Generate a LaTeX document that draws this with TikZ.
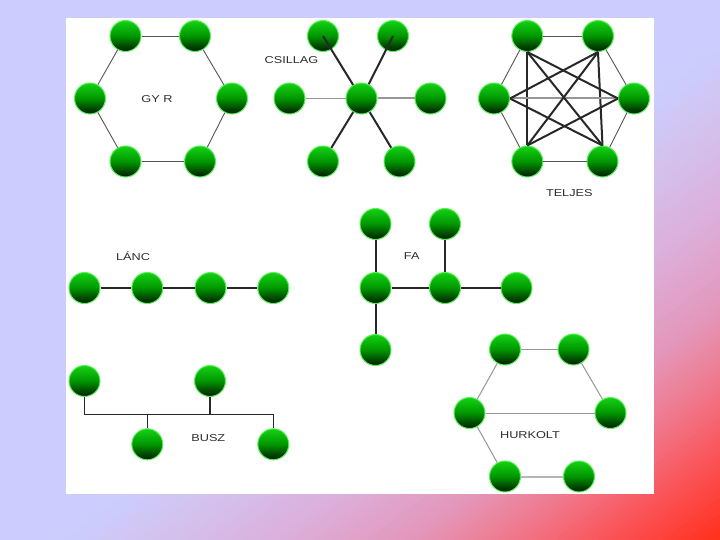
\documentclass[tikz,border=0pt]{standalone}
\usepackage{fontspec}
\newfontfamily\lblfont[FakeStretch=1.27]{Liberation Sans}
\definecolor{g0}{RGB}{204,204,255}
\definecolor{g1}{RGB}{204,204,252}
\definecolor{g2}{RGB}{210,196,240}
\definecolor{g3}{RGB}{220,176,220}
\definecolor{g4}{RGB}{228,150,185}
\definecolor{g5}{RGB}{240,120,140}
\definecolor{g6}{RGB}{250,85,90}
\definecolor{g7}{RGB}{255,55,40}
\definecolor{g8}{RGB}{255,48,22}
\definecolor{ballT}{RGB}{20,210,20}
\definecolor{ballM}{RGB}{0,150,0}
\definecolor{ballB}{RGB}{0,25,0}
\definecolor{ballR}{RGB}{90,240,90}
\definecolor{lineD}{RGB}{40,40,40}
\definecolor{lineM}{RGB}{85,85,85}
\definecolor{lineL}{RGB}{150,150,150}
\definecolor{txt}{RGB}{45,45,45}
\tikzset{
  ball/.style={circle, minimum size=31pt, inner sep=0pt, top color=ballT, bottom color=ballB, middle color=ballM, draw=ballR, line width=1pt},
  lbl/.style={font=\lblfont\fontsize{10}{12}\selectfont, text=txt, inner sep=0pt},
  ringln/.style={draw=lineM, line width=0.9pt},
  heavyln/.style={draw=lineD, line width=2pt},
  greyln/.style={draw=lineL, line width=1pt},
  greyheavy/.style={draw=lineL, line width=2pt}
}
\begin{document}
\begin{tikzpicture}[x=1pt,y=-1pt]
\useasboundingbox (0,0) rectangle (720,540);
% background gradient (diagonal, lavender to red)
\fill[g0] (0,0) rectangle (720,540);
\begin{scope}
\clip (0,0) rectangle (720,540);
\foreach \sa/\sb/\colA/\colB in {0/10/g0/g1, 10/19/g1/g2, 19/38/g2/g3, 38/57/g3/g4, 57/70/g4/g5, 70/83/g5/g6, 83/96/g6/g7, 96/100/g7/g8} {
  \pgfmathtruncatemacro\e{\sb-1}
  \foreach \i in {\sa,...,\e} {
    \pgfmathsetmacro\p{100*(\i-\sa)/(\sb-\sa)}
    \pgfmathsetmacro\lo{1+\i/100}
    \pgfmathsetmacro\hi{1+(\i+1)/100+0.006}
    \colorlet{bandc}{\colB!\p!\colA}
    \fill[bandc] ({720*(\lo+1)},-540) -- ({720*(\lo-2)},1080) -- ({720*(\hi-2)},1080) -- ({720*(\hi+1)},-540) -- cycle;
  }
}
\end{scope}
% white panel
\fill[white] (66,18) rectangle (654,494);

% ---------- ring ----------
\node[ball] (r1) at (125.5,36) {};
\node[ball] (r2) at (195,36) {};
\node[ball] (r3) at (232,98.5) {};
\node[ball] (r4) at (200,161.5) {};
\node[ball] (r5) at (125.5,161.5) {};
\node[ball] (r6) at (90,98.5) {};
\draw[ringln] (r1) -- (r2); \draw[ringln] (r2) -- (r3); \draw[ringln] (r3) -- (r4);
\draw[ringln] (r4) -- (r5); \draw[ringln] (r5) -- (r6); \draw[ringln] (r6) -- (r1);
\node[lbl] (lring) at (157,99.3) {GY R};

% ---------- star ----------
\node[ball] (s0) at (361.5,98.5) {};
\node[ball] (s1) at (323,36) {};
\node[ball] (s2) at (393,36) {};
\node[ball] (s3) at (430.5,98.5) {};
\node[ball] (s4) at (399.5,161.5) {};
\node[ball] (s5) at (323,161.5) {};
\node[ball] (s6) at (289.5,98.5) {};
\draw[heavyln] (s0) -- (s1.center);
\draw[heavyln] (s0) -- (s2.center);
\draw[greyheavy] (s0) -- (s3);
\draw[heavyln] (s0) -- (s4);
\draw[heavyln] (s0) -- (s5);
\draw[greyln] (s0) -- (s6);
\node[lbl] (lstar) at (291.5,60) {CSILLAG};

% ---------- complete ----------
\node[ball] (t1) at (527.3,36) {};
\node[ball] (t2) at (598,36) {};
\node[ball] (t3) at (634,98.5) {};
\node[ball] (t4) at (602.5,161.5) {};
\node[ball] (t5) at (527.3,161.5) {};
\node[ball] (t6) at (494,98.5) {};
\draw[ringln] (t1) -- (t2); \draw[ringln] (t2) -- (t3); \draw[ringln] (t3) -- (t4);
\draw[ringln] (t4) -- (t5); \draw[ringln] (t5) -- (t6); \draw[ringln] (t6) -- (t1);
\draw[heavyln] (t1.south) -- (t5.north);
\draw[heavyln] (t2.south) -- (t4.north);
\draw[greyheavy] (t6.east) -- (t3.west);
\draw[heavyln] (t1.south) -- (t4.north);
\draw[heavyln] (t1.south) -- (t3.west);
\draw[heavyln] (t2.south) -- (t5.north);
\draw[heavyln] (t2.south) -- (t6.east);
\draw[heavyln] (t3.west) -- (t5.north);
\draw[heavyln] (t6.east) -- (t4.north);
\node[lbl] (lcomp) at (569.3,192.7) {TELJES};

% ---------- chain ----------
\node[ball] (c1) at (84.5,288) {};
\node[ball] (c2) at (147.3,288) {};
\node[ball] (c3) at (210.5,288) {};
\node[ball] (c4) at (273.3,288) {};
\draw[heavyln] (c1) -- (c2); \draw[heavyln] (c2) -- (c3); \draw[heavyln] (c3) -- (c4);
\node[lbl] (lchain) at (133,256.7) {LÁNC};

% ---------- tree ----------
\node[ball] (f1) at (375.5,224) {};
\node[ball] (f2) at (445,224) {};
\node[ball] (f3) at (375.5,288) {};
\node[ball] (f4) at (445,288) {};
\node[ball] (f5) at (516.5,288) {};
\node[ball] (f6) at (375.5,350) {};
\draw[heavyln] (f1) -- (f3); \draw[heavyln] (f3) -- (f4); \draw[heavyln] (f2) -- (f4);
\draw[heavyln] (f4) -- (f5); \draw[heavyln] (f3) -- (f6);
\node[lbl] (ltree) at (411.7,256) {FA};

% ---------- bus ----------
\node[ball] (b1) at (84.5,381) {};
\node[ball] (b2) at (210,381) {};
\node[ball] (b3) at (147.3,444.3) {};
\node[ball] (b4) at (273.3,444.3) {};
\coordinate (busL) at (84.5,414.3);
\coordinate (busR) at (273.3,414.3);
\draw[draw=lineD, line width=1.6pt] (b1) -- (busL) -- (busR) -- (b4);
\draw[draw=lineD, line width=2.2pt] (b2) -- (b2 |- busL);
\draw[draw=lineD, line width=1.6pt] (b3) -- (b3 |- busL);
\node[lbl] (lbus) at (208.3,438.3) {BUSZ};

% ---------- mesh ----------
\node[ball] (h1) at (505,349.5) {};
\node[ball] (h2) at (573.5,349.5) {};
\node[ball] (h3) at (610.5,413) {};
\node[ball] (h4) at (579,476.5) {};
\node[ball] (h5) at (505,476.5) {};
\node[ball] (h6) at (469.5,413) {};
\draw[greyln] (h1) -- (h2); \draw[greyln] (h2) -- (h3); \draw[greyln] (h6) -- (h3);
\draw[greyheavy, draw=lineL!70] (h4) -- (h5); \draw[greyln] (h5) -- (h6); \draw[greyln] (h6) -- (h1);
\node[lbl] (lmesh) at (530,435) {HURKOLT};
\end{tikzpicture}
\end{document}
